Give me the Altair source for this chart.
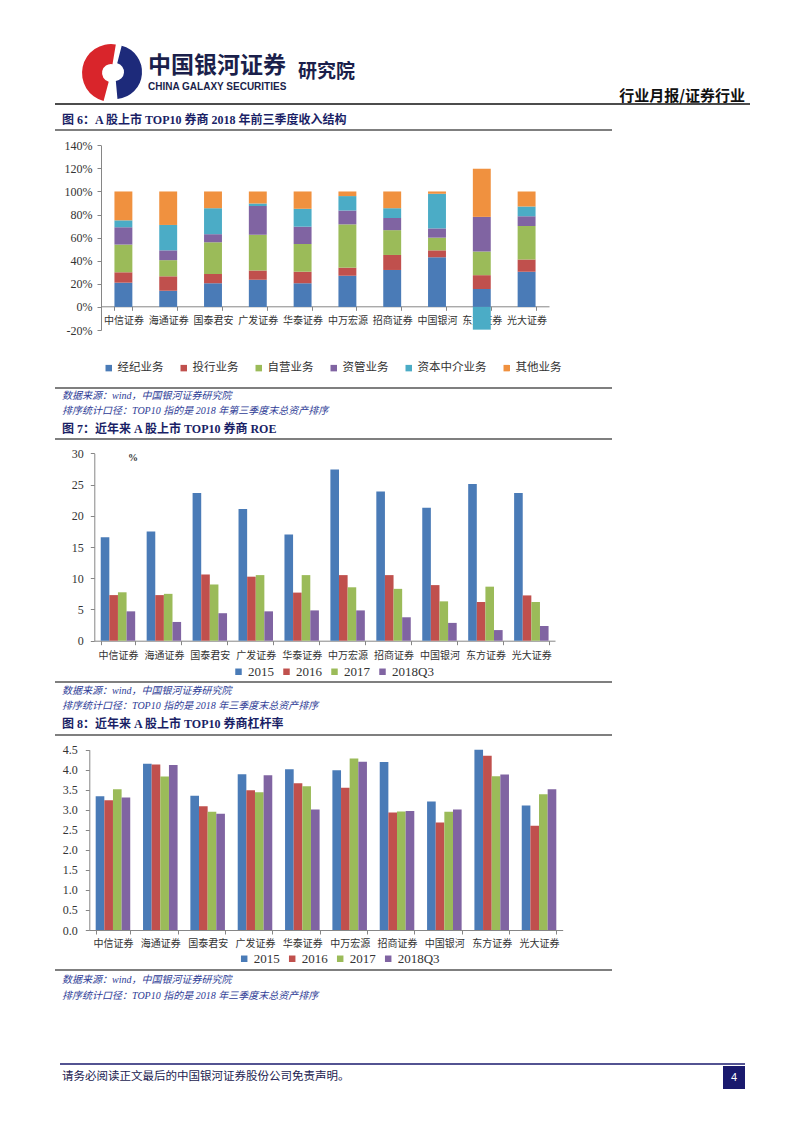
import altair as alt
import pandas as pd

# ---------------- data ----------------
brokers = ["中信证券", "海通证券", "国泰君安", "广发证券", "华泰证券",
           "中万宏源", "招商证券", "中国银河", "东方证券", "光大证券"]

biz = ["经纪业务", "投行业务", "自营业务", "资管业务", "资本中介业务", "其他业务"]
brokerage = [21, 14, 20.5, 23.5, 20.5, 27, 32, 43, 15.5, 30.5]
ib = [9, 12.5, 8, 8, 10, 7, 13, 6, 12, 10.5]
prop = [24, 14, 27.5, 31, 24, 37.5, 21.5, 11, 20.5, 29]
am = [15, 8.5, 7, 25, 15, 12, 10.5, 8, 30, 8.5]
margin = [6, 22, 22.5, 2, 15.5, 12.5, 8.5, 30, -19.7, 8.5]
other = [25, 29, 14.5, 10.5, 15, 4, 14.5, 2, 41.7, 13]
pct_ticks = [-0.2, 0, 0.2, 0.4, 0.6, 0.8, 1.0, 1.2, 1.4]

years = ["2015", "2016", "2017", "2018Q3"]
roe2015 = [16.55, 17.5, 23.65, 21.1, 17.0, 27.4, 23.9, 21.3, 25.1, 23.65]
roe2016 = [7.3, 7.3, 10.6, 10.25, 7.7, 10.5, 10.5, 8.9, 6.2, 7.25]
roe2017 = [7.75, 7.5, 9.0, 10.5, 10.5, 8.55, 8.3, 6.3, 8.65, 6.2]
roe2018 = [4.7, 3.0, 4.4, 4.7, 4.85, 4.85, 3.75, 2.85, 1.7, 2.35]
roe_ticks = [0, 5, 10, 15, 20, 25, 30]

lev2015 = [3.34, 4.15, 3.35, 3.89, 4.01, 3.99, 4.19, 3.21, 4.50, 3.11]
lev2016 = [3.24, 4.13, 3.09, 3.49, 3.66, 3.55, 2.93, 2.68, 4.35, 2.60]
lev2017 = [3.51, 3.83, 2.95, 3.44, 3.59, 4.28, 2.96, 2.95, 3.84, 3.39]
lev2018 = [3.31, 4.12, 2.90, 3.86, 3.01, 4.20, 2.97, 3.01, 3.88, 3.51]
lev_ticks = [0, 0.5, 1.0, 1.5, 2.0, 2.5, 3.0, 3.5, 4.0, 4.5]

colors6 = ["#4a7bb7", "#c0504d", "#9bbb59", "#8064a2", "#4bacc6", "#f0913f"]
colors4 = ["#4a7bb7", "#c0504d", "#9bbb59", "#8064a2"]

# ---------------- styles ----------------
FONT = "Liberation Serif, Noto Sans CJK SC"
CJK = "Noto Sans CJK SC"
NAVY = "#1a1f66"
SRC = "#2e3c96"
AX = "#868686"
LAB = "#333333"
W = 786

BLANK = alt.Data(values=[{"k": 0}])


def txt(s, x, y, size, color="#000000", weight="normal", style="normal",
        font=FONT, align="left"):
    return alt.Chart(BLANK).mark_text(
        text=s, fontSize=size, color=color, fontWeight=weight, fontStyle=style,
        font=font, align=align, baseline="middle"
    ).encode(x=alt.value(x), y=alt.value(y))


def hline(x1, x2, y, color, w=1.5):
    return alt.Chart(BLANK).mark_rule(color=color, strokeWidth=w).encode(
        x=alt.value(x1), x2=alt.value(x2), y=alt.value(y))


def x_axis(offset, pad):
    return alt.Axis(title=None, labelAngle=0, labelOverlap=False, grid=False,
                    domainColor=AX, tickColor=AX, tickSize=4, tickBand="extent",
                    labelFont=FONT, labelFontSize=10, labelColor=LAB,
                    labelPadding=pad, offset=offset)


def y_axis(offset, pad, values, label_expr):
    return alt.Axis(title=None, grid=False, values=values, domainColor=AX,
                    tickColor=AX, tickSize=4, labelFont=FONT, labelFontSize=12,
                    labelColor=LAB, labelPadding=pad, offset=offset,
                    labelExpr=label_expr)


def legend(lx, ly, size, col_pad):
    return alt.Legend(orient="none", legendX=lx, legendY=ly, direction="horizontal",
                      title=None, symbolType="square", symbolSize=42,
                      symbolStrokeWidth=0, labelFont=FONT, labelFontSize=size,
                      labelColor=LAB, columnPadding=col_pad, labelOffset=3,
                      padding=0)


src1 = "数据来源：wind，中国银河证券研究院"
src2 = "排序统计口径：TOP10 指的是 2018 年第三季度末总资产排序"
src2b = "排序统计口径：TOP10 指的是 2018 年三季度末总资产排序"

# ---------------- panel A: header + figure 6 ----------------
series1 = [brokerage, ib, prop, am, margin, other]
rows1 = []
for i, b in enumerate(brokers):
    for j, name in enumerate(biz):
        rows1.append({"broker": b, "biz": name, "ord": j, "v": series1[j][i] / 100})
df1 = pd.DataFrame(rows1)

HA = 432
bars1 = alt.Chart(df1).mark_bar().encode(
    x=alt.X("broker:N", sort=brokers,
            scale=alt.Scale(range=[93, 541], paddingInner=0.6, paddingOuter=0.3),
            axis=x_axis(-(HA - 298.3), 5)),
    y=alt.Y("v:Q", stack="zero",
            scale=alt.Scale(domain=[-0.2, 1.4], range=[322, 137.3], nice=False, zero=False),
            axis=y_axis(-93, 5, pct_ticks, "round(datum.value*100) + '%'")),
    color=alt.Color("biz:N", sort=biz, scale=alt.Scale(domain=biz, range=colors6),
                    legend=legend(95, 354, 11.5, 14)),
    order=alt.Order("ord:Q"),
)

logo_red = alt.Chart(BLANK).mark_arc(theta=3.4, theta2=6.45, radius=29, radius2=9,
                                      color="#d9252b").encode(x=alt.value(103), y=alt.value(65))
logo_navy = alt.Chart(BLANK).mark_arc(theta=0.25, theta2=3.05, radius=27, radius2=9,
                                       color="#1d2a7a").encode(x=alt.value(107), y=alt.value(64))

panelA = alt.layer(
    bars1,
    logo_red, logo_navy,
    txt("中国银河证券", 140, 58, 23, "#1b1f4b", "bold", font=CJK),
    txt("CHINA GALAXY SECURITIES", 140, 79, 10, "#1b1f4b", "bold", font="Liberation Sans"),
    txt("研究院", 290, 64, 19, "#1b1f4b", "bold", font=CJK),
    txt("行业月报/证券行业", 737, 88, 15, "#111111", "bold", font=CJK, align="right"),
    hline(47, 742, 96, "#111111", 1.6),
    txt("图 6：A 股上市 TOP10 券商 2018 年前三季度收入结构", 54, 112, 12, NAVY, "bold"),
    hline(47, 604, 122, "#555555"),
    hline(47, 604, 380, "#555555"),
    txt(src1, 54, 388, 10, SRC, style="italic"),
    txt(src2, 54, 403, 10, SRC, style="italic"),
    txt("图 7：近年来 A 股上市 TOP10 券商 ROE", 54, 421, 12, NAVY, "bold"),
    hline(47, 604, 431, "#555555"),
).properties(width=W, height=HA)

# ---------------- panel B: figure 7 ----------------
roe = [roe2015, roe2016, roe2017, roe2018]
rows2 = []
for i, b in enumerate(brokers):
    for j, y in enumerate(years):
        rows2.append({"broker": b, "year": y, "v": roe[j][i]})
df2 = pd.DataFrame(rows2)

HB = 300
bars2 = alt.Chart(df2).mark_bar().encode(
    x=alt.X("broker:N", sort=brokers,
            scale=alt.Scale(range=[86.3, 547], paddingInner=0.25, paddingOuter=0.14),
            axis=x_axis(-(HB - 200.7), 6)),
    xOffset=alt.XOffset("year:N", sort=years, scale=alt.Scale(paddingInner=0, paddingOuter=0)),
    y=alt.Y("v:Q", scale=alt.Scale(domain=[0, 30], range=[200.7, 13.3], nice=False),
            axis=y_axis(-86.3, 7, roe_ticks, "datum.label")),
    color=alt.Color("year:N", sort=years, scale=alt.Scale(domain=years, range=colors4),
                    legend=legend(224, 225, 13, 6)),
)

panelB = alt.layer(
    bars2,
    txt("%", 120, 18, 10, "#333333", "bold"),
    hline(47, 604, 242, "#555555"),
    txt(src1, 54, 250.5, 10, SRC, style="italic"),
    txt(src2b, 54, 266, 10, SRC, style="italic"),
    txt("图 8：近年来 A 股上市 TOP10 券商杠杆率", 54, 284, 12, NAVY, "bold"),
    hline(47, 604, 295, "#555555"),
).properties(width=W, height=HB)

# ---------------- panel C: figure 8 + footer ----------------
lev = [lev2015, lev2016, lev2017, lev2018]
rows3 = []
for i, b in enumerate(brokers):
    for j, y in enumerate(years):
        rows3.append({"broker": b, "year": y, "v": lev[j][i]})
df3 = pd.DataFrame(rows3)

HC = 385
bars3 = alt.Chart(df3).mark_bar().encode(
    x=alt.X("broker:N", sort=brokers,
            scale=alt.Scale(range=[81.3, 554.7], paddingInner=0.27, paddingOuter=0.135),
            axis=x_axis(-(HC - 190), 4)),
    xOffset=alt.XOffset("year:N", sort=years, scale=alt.Scale(paddingInner=0, paddingOuter=0)),
    y=alt.Y("v:Q", scale=alt.Scale(domain=[0, 4.5], range=[190, 9.7], nice=False),
            axis=y_axis(-81.3, 8, lev_ticks, "format(datum.value, '.1f')")),
    color=alt.Color("year:N", sort=years, scale=alt.Scale(domain=years, range=colors4),
                    legend=legend(229.7, 212, 13, 6)),
)

page_box = alt.Chart(BLANK).mark_rect(color="#1a1a6e").encode(
    x=alt.value(715), x2=alt.value(737), y=alt.value(326), y2=alt.value(349))

panelC = alt.layer(
    bars3,
    hline(47, 604, 230, "#555555"),
    txt(src1, 54, 239.5, 10, SRC, style="italic"),
    txt(src2b, 54, 255.5, 10, SRC, style="italic"),
    hline(52, 737, 324, "#1a1a6e", 1.6),
    txt("请务必阅读正文最后的中国银河证券股份公司免责声明。", 54, 337, 11.5, "#1a1a50"),
    page_box,
    txt("4", 726, 337.5, 11, "#ffffff", font="Liberation Sans", align="center"),
).properties(width=W, height=HC)

chart = alt.vconcat(panelA, panelB, panelC, spacing=0, bounds="flush").resolve_scale(
    x="independent", y="independent", color="independent", xOffset="independent"
).resolve_legend(color="independent").resolve_axis(
    x="independent", y="independent"
).properties(padding=0, background="#ffffff").configure_view(stroke=None)

chart.save("out.html", embed_options={"renderer": "svg", "actions": False})
